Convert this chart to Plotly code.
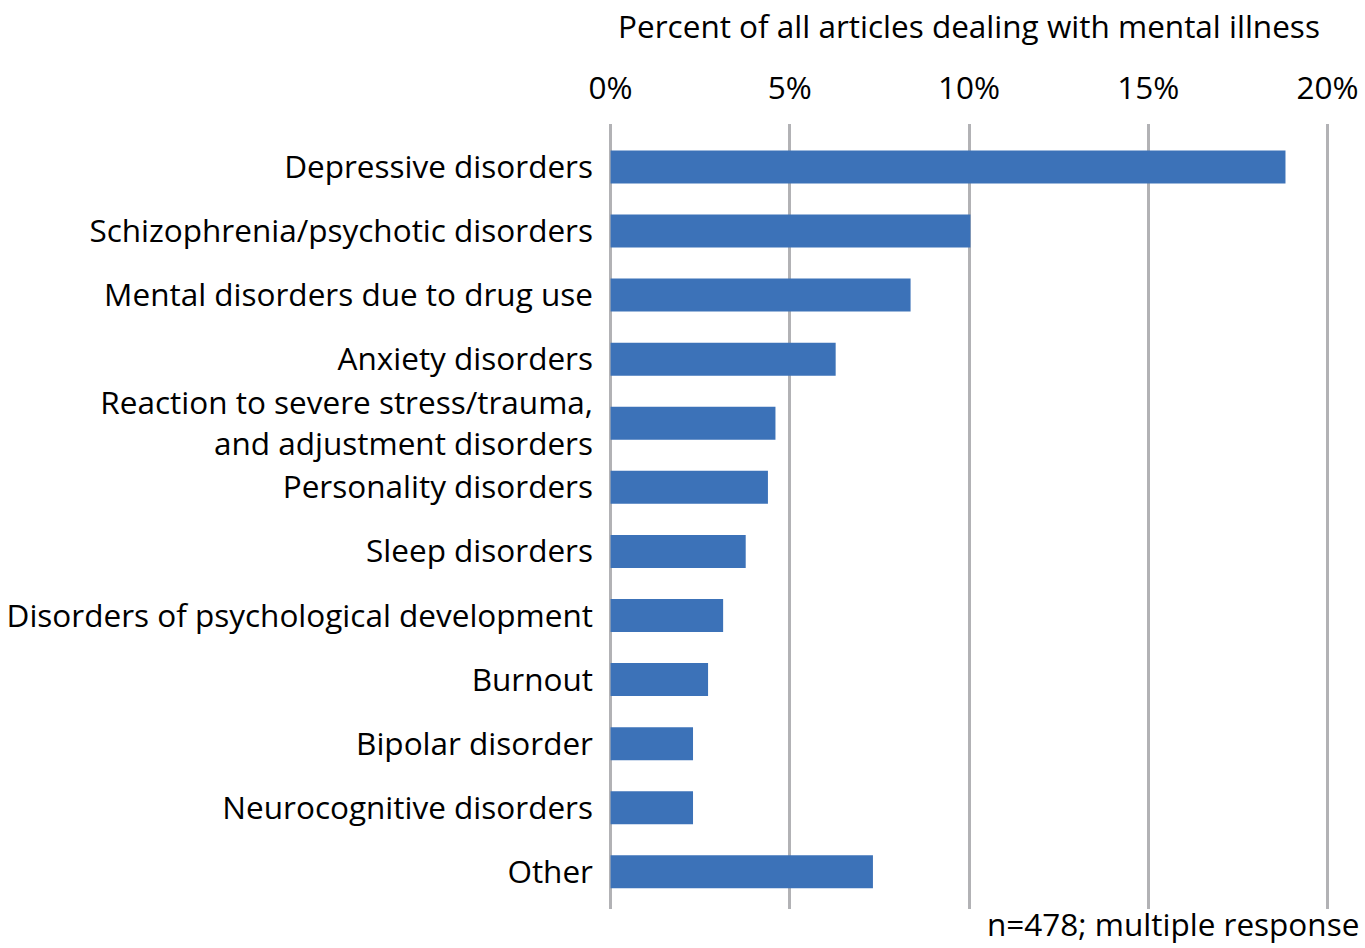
import plotly.graph_objects as go

# Share of articles on mental illness mentioning each diagnosis group (n=478)
categories = [
    "Depressive disorders",
    "Schizophrenia/psychotic disorders",
    "Mental disorders due to drug use",
    "Anxiety disorders",
    "Reaction to severe stress/trauma,<br>and adjustment disorders",
    "Personality disorders",
    "Sleep disorders",
    "Disorders of psychological development",
    "Burnout",
    "Bipolar disorder",
    "Neurocognitive disorders",
    "Other",
]
percent = [18.83, 10.04, 8.37, 6.28, 4.60, 4.39, 3.77, 3.14, 2.72, 2.30, 2.30, 7.32]
tick_values = [0, 5, 10, 15, 20]
tick_labels = ["0%", "5%", "10%", "15%", "20%"]

FONT = "Open Sans"
SIZE = 31.5
BAR = "#3c72b8"
GRID = "#b2b2b5"

fig = go.Figure(
    go.Bar(
        x=percent,
        y=categories,
        orientation="h",
        marker=dict(color=BAR, line=dict(width=0)),
        width=0.515,
        hoverinfo="x+y",
    )
)

n = len(categories)
fig.update_layout(
    width=1365,
    height=948,
    margin=dict(l=607, r=34, t=124, b=39, autoexpand=False),
    paper_bgcolor="white",
    plot_bgcolor="white",
    font=dict(family=FONT, size=SIZE, color="black"),
    showlegend=False,
    xaxis=dict(
        side="top",
        # small padding keeps the 0% and 20% gridlines inside the plot
        range=[-0.1, 20.1],
        tickvals=tick_values,
        ticktext=tick_labels,
        showgrid=True,
        gridcolor=GRID,
        gridwidth=3,
        zeroline=False,
        showline=False,
        ticks="",
        ticklabelstandoff=18,
        tickfont=dict(family=FONT, size=SIZE),
        title=dict(
            text="Percent of all articles dealing with mental illness",
            font=dict(family=FONT, size=SIZE),
            standoff=16,
        ),
        automargin=False,
        fixedrange=True,
    ),
    yaxis=dict(
        categoryorder="array",
        categoryarray=categories,
        range=[n - 1 + 0.58, -0.67],
        showgrid=False,
        zeroline=False,
        showline=False,
        ticks="",
        ticklabelstandoff=13,
        tickfont=dict(family=FONT, size=SIZE),
        automargin=False,
        fixedrange=True,
    ),
    annotations=[
        dict(
            text="n=478; multiple response",
            xref="paper",
            yref="paper",
            x=1.042,
            y=-0.049,
            xanchor="right",
            yanchor="bottom",
            showarrow=False,
            font=dict(family=FONT, size=SIZE),
        )
    ],
)

fig.write_html("out.html")
